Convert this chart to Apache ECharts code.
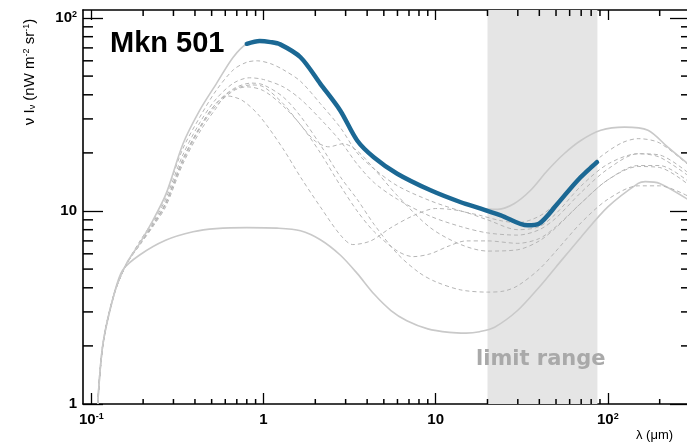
<!DOCTYPE html>
<html><head><meta charset="utf-8">
<script src="https://cdn.jsdelivr.net/npm/echarts@6/dist/echarts.min.js"></script>
<style>html,body{margin:0;padding:0;background:#fff}#c{width:687px;height:447px}</style>
</head><body><div id="c"></div>
<script>
// ---- tick data ----
const xMajorTicks = [0.1, 1, 10, 100];
const xMajorLabels = [['10','-1'], ['1',''], ['10',''], ['10','2']];
const xMinorTicks = [0.2,0.3,0.4,0.5,0.6,0.7,0.8,0.9,2,3,4,5,6,7,8,9,20,30,40,50,60,70,80,90,200];
const yMajorTicks = [1, 10, 100];
const yMajorLabels = [['1',''], ['10',''], ['10','2']];
const yMinorTicks = [2,3,4,5,6,7,8,9,20,30,40,50,60,70,80,90];
const limitBand = [20, 87];

// ---- curves [lambda (um), nuI_nu (nW m^-2 sr^-1)] ----
const solidUpper = [[0.109,1],[0.117,2.06],[0.136,3.74],[0.16,5.34],[0.191,6.8],[0.228,8.95],[0.272,12.3],[0.341,22.3],[0.426,33.2],[0.532,45.6],[0.667,62.6],[0.8,73.5],[0.95,76],[1.1,75],[1.25,73],[1.64,62.6],[2.14,45.6],[2.79,33.2],[3.5,23.2],[4.37,19],[5.98,15.6],[9.34,12.8],[14,11.1],[18.3,10.3],[23,10.2],[28.5,10.9],[35.6,12.8],[44.6,16.2],[55.7,19.8],[69.7,23.2],[91,26.2],[125,27.2],[171,26.2],[223,21.4],[300,17.2]];
const solidLower = [[0.109,1],[0.117,2.06],[0.136,3.74],[0.152,4.94],[0.19,5.9],[0.27,7.05],[0.39,7.8],[0.53,8.1],[0.8,8.2],[1.2,8.15],[1.64,7.9],[2.14,7.1],[2.8,5.9],[3.5,4.75],[4.4,3.7],[5.5,3.05],[6.8,2.7],[9,2.45],[12,2.35],[15,2.33],[18,2.37],[22,2.5],[30,3.06],[40,4.04],[50,5.13],[70,7.34],[100,10.5],[150,13.9],[165,14.2],[200,13.9],[300,11.3]];
const blueMkn501 = [[0.8,73.5],[0.95,76],[1.1,75],[1.25,73],[1.64,62.6],[2.14,45.6],[2.79,33.2],[3.5,23.2],[4.37,19],[5.98,15.6],[9.34,12.8],[14,11.1],[18.3,10.3],[23.9,9.5],[34.2,8.43],[39.9,8.6],[51,10.9],[66.7,14.4],[86.5,17.9]];
const dashedA = [[0.109,1],[0.117,2.06],[0.136,3.74],[0.16,5.3],[0.19,6.9],[0.23,9.0],[0.27,12],[0.34,21],[0.43,31],[0.53,42],[0.67,54],[0.8,59],[0.92,60],[1.1,58],[1.3,54],[1.64,47],[2.14,36],[2.8,27],[3.5,20],[4.4,16.5],[6,13.5],[9.3,11.3],[14,10],[18,9.5],[24,8.9],[30,8.7],[40,9.4],[50,11],[70,15.5],[90,19],[120,22.5],[150,23.7],[200,22.5],[300,17]];
const dashedB = [[0.109,1],[0.117,2.06],[0.136,3.74],[0.16,5.3],[0.19,6.8],[0.23,8.8],[0.27,11.5],[0.34,19.5],[0.43,29],[0.53,38],[0.67,46],[0.83,49],[1.0,48],[1.3,44],[1.64,38],[2.14,30],[2.8,23],[3.5,17.5],[4.4,14],[6,11.5],[9.3,9.4],[14,8.3],[20,7.7],[30,7.5],[40,8.0],[50,9.2],[70,12.5],[100,16.5],[150,19.8],[200,19.5],[300,15.5]];
const dashedC = [[0.109,1],[0.117,2.06],[0.136,3.74],[0.16,5.3],[0.19,6.7],[0.23,8.6],[0.27,11],[0.34,18.5],[0.43,27.5],[0.53,36],[0.67,42.5],[0.85,45],[1.0,44],[1.3,36],[1.64,28],[2.0,23],[2.4,21.5],[2.9,22.3],[3.5,20.5],[4.4,16.5],[6,12],[9.3,8.2],[14,6.7],[20,6.2],[30,6.3],[40,7.0],[50,8.2],[70,11],[100,14.5],[150,17.2],[200,17.2],[300,14]];
const dashedD = [[0.109,1],[0.117,2.06],[0.136,3.74],[0.16,5.3],[0.19,6.6],[0.23,8.4],[0.27,10.5],[0.34,17.5],[0.43,26],[0.53,34],[0.61,39.5],[0.75,37.5],[0.95,31],[1.3,21],[1.64,15],[2.14,10.5],[2.8,7.5],[3.3,6.7],[4.2,7.0],[5.5,8.2],[7.5,9.5],[10,10.3],[14,10],[20,9.0],[30,8.0],[40,8.3],[50,9.7],[70,13.5],[100,17.5],[150,19.8],[200,19],[300,15]];
const dashedE = [[0.109,1],[0.117,2.06],[0.136,3.74],[0.16,5.3],[0.19,6.7],[0.23,8.5],[0.27,10.8],[0.34,18],[0.43,27],[0.53,35],[0.67,42],[0.8,44],[1.0,42],[1.3,35],[1.64,28],[2.14,20],[2.8,13.5],[3.5,10],[4.4,7.8],[6,6.2],[7.4,5.8],[9.3,6.0],[12,6.6],[15,7.0],[20,7.0],[30,6.8],[40,7.2],[50,8.3],[70,11],[100,14.5],[150,17],[200,16.8],[300,13.5]];
const dashedF = [[0.109,1],[0.117,2.06],[0.136,3.74],[0.16,5.3],[0.19,6.7],[0.23,8.6],[0.27,11],[0.34,18.5],[0.43,27.5],[0.53,36],[0.67,43],[0.85,46],[1.0,45],[1.3,39],[1.64,31],[2.14,22],[2.8,15],[3.5,11.5],[4.4,8.5],[6,6.0],[8,4.8],[10,4.3],[14,3.9],[20,3.8],[25,3.85],[30,4.1],[40,5.0],[50,6.2],[70,8.7],[100,11.5],[150,13.5],[200,13.5],[300,11.8]];
const dashedCurves = [dashedA, dashedB, dashedC, dashedD, dashedE, dashedF];

const FONT = 'Liberation Sans, Arial, sans-serif';
function fmt(ticks, labels) {
  return function (v) {
    const i = ticks.findIndex(t => Math.abs(Math.log10(t) - Math.log10(v)) < 1e-6);
    if (i < 0) return '';
    const b = labels[i][0], s = labels[i][1];
    return s ? '{b|' + b + '}{s|' + s + '}' : '{b|' + b + '}';
  };
}
const rich = {
  b: {fontSize: 15, fontWeight: 'bold', fontFamily: FONT, color: '#000'},
  s: {fontSize: 9, fontWeight: 'bold', fontFamily: FONT, color: '#000', verticalAlign: 'top'}
};
const XMIN = 0.0895, XMAX = 300, YMIN = 1, YMAX = 110;
const GRID_LEFT = 83, GRID_RIGHT = -3, GRID_TOP = 10, GRID_BOTTOM = 43;
function xAx(pos, len, label) {
  return {
    type: 'log', logBase: 10, gridIndex: 0, position: pos, min: XMIN, max: XMAX,
    axisLine: {show: true, onZero: false, lineStyle: {color: '#000', width: 1.6}},
    axisTick: {show: true, inside: true, length: len, customValues: xMajorTicks, lineStyle: {color: '#000', width: 1.3}},
    axisLabel: label ? {show: true, customValues: xMajorTicks, formatter: fmt(xMajorTicks, xMajorLabels), rich: rich, margin: 8} : {show: false},
    splitLine: {show: false}
  };
}
function yAx(pos, len, label) {
  return {
    type: 'log', logBase: 10, gridIndex: 0, position: pos, min: YMIN, max: YMAX,
    axisLine: {show: true, onZero: false, lineStyle: {color: '#000', width: 1.6}},
    axisTick: {show: true, inside: true, length: len, customValues: yMajorTicks, lineStyle: {color: '#000', width: 1.3}},
    axisLabel: label ? {show: true, customValues: yMajorTicks, formatter: fmt(yMajorTicks, yMajorLabels), rich: rich, margin: 6, align: 'right'} : {show: false},
    splitLine: {show: false}
  };
}
function line(data, style, z) {
  return {type: 'line', data: data, showSymbol: false, symbol: 'none',
    smooth: 0.3, lineStyle: style, silent: true, z: z};
}
const series = [];
const bandHost = line(solidLower, {color: '#c9c9c9', width: 1.6}, 3);
bandHost.markArea = {silent: true, itemStyle: {color: '#e5e5e5', opacity: 1}, data: [[{xAxis: limitBand[0]}, {xAxis: limitBand[1]}]]};
series.push(bandHost);
dashedCurves.forEach(d => series.push(line(d, {color: '#b5b5b5', width: 1, type: [4, 3]}, 4)));
series.push(line(solidUpper, {color: '#c9c9c9', width: 1.6}, 5));
series.push(line(blueMkn501, {color: '#1b6894', width: 4.5, cap: 'round'}, 6));

const chart = echarts.init(document.getElementById('c'));
chart.setOption({
  animation: false,
  backgroundColor: '#fff',
  grid: {left: GRID_LEFT, right: GRID_RIGHT, top: GRID_TOP, bottom: GRID_BOTTOM, outerBoundsMode: 'none'},
  xAxis: [xAx('bottom', 11, true), xAx('top', 10, false)],
  yAxis: [yAx('left', 20, true), yAx('right', 20, false)],
  series: series
});

// minor ticks: positions from the axes' own log scales
function toPx(axisKey, v, dimIdx) {
  let p = null;
  try { const f = {}; f[axisKey] = 0; p = chart.convertToPixel(f, v); } catch (e) { p = null; }
  if (Array.isArray(p)) p = p[dimIdx];
  if (typeof p !== 'number' || !isFinite(p)) {
    try {
      const q = chart.convertToPixel({gridIndex: 0}, dimIdx === 0 ? [v, 10] : [1, v]);
      p = Array.isArray(q) ? q[dimIdx] : NaN;
    } catch (e) { p = NaN; }
  }
  return p;
}
const W = 687, H = 447;
const EL = GRID_LEFT, ER = W - GRID_RIGHT, ET = GRID_TOP, EB = H - GRID_BOTTOM;
const minorGraphics = [];
function seg(x1, y1, x2, y2) {
  if (!(isFinite(x1) && isFinite(y1) && isFinite(x2) && isFinite(y2))) return;
  minorGraphics.push({type: 'line', z: 60, zlevel: 0, silent: true,
    shape: {x1: x1, y1: y1, x2: x2, y2: y2},
    style: {stroke: '#000', lineWidth: 1.5, fill: null}});
}
xMinorTicks.forEach(v => { const x = toPx('xAxisIndex', v, 0); seg(x, EB, x, EB - 5); seg(x, ET, x, ET + 6); });
yMinorTicks.forEach(v => { const y = toPx('yAxisIndex', v, 1); seg(EL, y, EL + 10, y); seg(ER, y, ER - 9, y); });

chart.setOption({
  graphic: {elements: [
    {type: 'text', x: 110, y: 44, z: 100, style: {text: 'Mkn 501', fill: '#000', font: 'bold 29px ' + FONT, align: 'left', verticalAlign: 'middle'}},
    {type: 'text', x: 476, y: 360, z: 100, style: {text: 'limit range', fill: '#a9a9a9', font: 'bold 21px "DejaVu Sans"', align: 'left', verticalAlign: 'middle'}},
    {type: 'text', x: 636, y: 435, z: 100, style: {text: 'λ (μm)', fill: '#000', font: '13px ' + FONT, align: 'left', verticalAlign: 'middle'}},
    {type: 'text', x: 30, y: 72, rotation: Math.PI / 2, z: 100, style: {
      text: 'ν I{sub|ν} (nW m{sup|-2} sr{sup|-1})', fill: '#000', font: '15px ' + FONT, align: 'center', verticalAlign: 'middle',
      rich: {sub: {fontSize: 9, fontFamily: FONT, verticalAlign: 'bottom', fill: '#000'}, sup: {fontSize: 9, fontFamily: FONT, verticalAlign: 'top', fill: '#000'}}
    }}
  ].concat(minorGraphics)}
});
</script></body></html>
